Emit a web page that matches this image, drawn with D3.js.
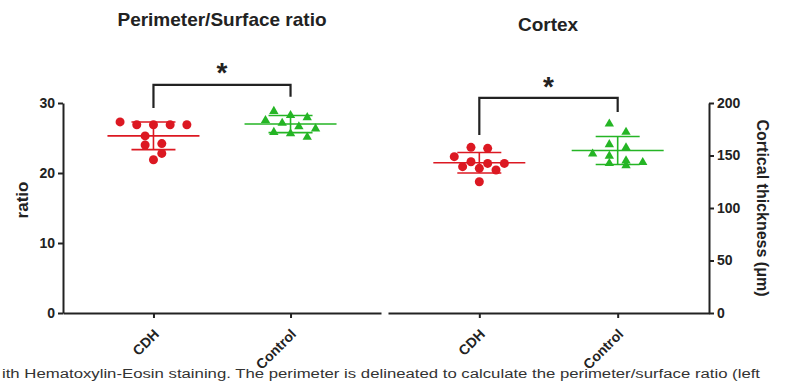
<!DOCTYPE html>
<html lang="en">
<head>
<meta charset="UTF-8">
<title>Perimeter/Surface ratio and Cortex</title>
<style>
body { margin: 0; background: #fff; }
svg { display: block; font-family: "Liberation Sans", Arial, sans-serif; }
.axis path, .axis line { stroke: #222; stroke-width: 2; }
.axis text { font-size: 14px; font-weight: bold; fill: #222; }
</style>
</head>
<body>
<svg id="chart" width="785" height="381"></svg>
<script src="https://cdn.jsdelivr.net/npm/d3@7"></script>
<script>
/* global d3 */

// values
var groups = ["CDH", "Control"];
var ratioCDH = [26.9, 26.9, 26.9, 27.3, 26.9, 25.3, 24.0, 24.2, 22.8, 21.9];
var ratioControl = [28.9, 28.0, 28.3, 27.6, 27.2, 26.7, 26.4, 25.9, 25.7, 25.2];
var cortexCDH = [157.8, 156.8, 148.9, 144.1, 142.5, 142.5, 139.4, 137.8, 136.2, 125.0];
var cortexControl = [180.6, 172.7, 161.0, 158.0, 152.0, 150.0, 145.5, 144.0, 143.0, 141.0];
var ratioTicks = [0, 10, 20, 30];
var cortexTicks = [0, 50, 100, 150, 200];
// significance brackets: [top, left leg end, right leg end, star]
var ratioSig = [32.6, 29.3, 30.9, 35.0];
var cortexSig = [204.8, 169.5, 191.4, 220.0];
var caption = "ith Hematoxylin-Eosin staining. The perimeter is delineated to calculate the perimeter/surface ratio (left";

var red = "#dc1822", green = "#25b525", ink = "#222";
var svg = d3.select("#chart");

var xL = d3.scalePoint().domain(groups).range([63, 381]).padding(0.66);
var xR = d3.scalePoint().domain(groups).range([388, 709]).padding(0.66);
var yL = d3.scaleLinear().domain([0, 30]).range([313, 103]);
var yR = d3.scaleLinear().domain([0, 200]).range([313, 103]);

// GraphPad-like scatter: bin points into rows, center each row
function swarm(values, cx, y, step, gap) {
  var sorted = values.slice().sort(function (a, b) { return b - a; });
  var rows = [], cur = null;
  sorted.forEach(function (v) {
    var py = y(v);
    if (!cur || py - cur.y0 >= gap) { cur = {y0: py, items: []}; rows.push(cur); }
    cur.items.push(v);
  });
  var out = [];
  rows.forEach(function (r) {
    var n = r.items.length;
    r.items.forEach(function (v, k) {
      out.push({v: v, x: cx + (k - (n - 1) / 2) * step, y: y(v)});
    });
  });
  return out;
}

function drawGroup(values, cx, y, color, shape) {
  var g = svg.append("g");
  var pts = swarm(values, cx, y, 16.7, 8.5);
  if (shape === "circle") {
    g.selectAll("circle").data(pts).enter().append("circle")
      .attr("cx", function (d) { return d.x; })
      .attr("cy", function (d) { return d.y; })
      .attr("r", 4.5)
      .attr("fill", color);
  } else {
    g.selectAll("path").data(pts).enter().append("path")
      .attr("d", d3.symbol().type(d3.symbolTriangle).size(38))
      .attr("transform", function (d) { return "translate(" + d.x + "," + (d.y + 0.5) + ")"; })
      .attr("fill", color);
  }
  var m = d3.mean(values), sd = d3.deviation(values);
  var lines = [
    [cx - 46, y(m), cx + 46, y(m)],
    [cx - 22, y(m + sd), cx + 22, y(m + sd)],
    [cx - 22, y(m - sd), cx + 22, y(m - sd)],
    [cx, y(m + sd), cx, y(m - sd)]
  ];
  g.selectAll("line").data(lines).enter().append("line")
    .attr("x1", function (d) { return d[0]; })
    .attr("y1", function (d) { return d[1]; })
    .attr("x2", function (d) { return d[2]; })
    .attr("y2", function (d) { return d[3]; })
    .attr("stroke", color)
    .attr("stroke-width", 1.6);
}

function drawBracket(x, y, sig) {
  var x1 = x("CDH"), x2 = x("Control");
  svg.append("path")
    .attr("d", "M" + x1 + "," + y(sig[1]) + "V" + y(sig[0]) + "H" + x2 + "V" + y(sig[2]))
    .attr("fill", "none").attr("stroke", ink).attr("stroke-width", 2.2);
  svg.append("text")
    .attr("x", (x1 + x2) / 2).attr("y", y(sig[3]) + 14)
    .attr("text-anchor", "middle")
    .attr("font-size", 28).attr("font-weight", "bold").attr("fill", ink)
    .text("*");
}

function xAxis(x) {
  var g = svg.append("g").attr("class", "axis")
    .attr("transform", "translate(0,313)")
    .call(d3.axisBottom(x).tickSize(5).tickSizeOuter(0).tickFormat(""));
  g.selectAll(".tick").append("text")
    .attr("transform", "translate(6,22) rotate(-45)")
    .attr("text-anchor", "end")
    .text(function (d) { return d; });
}

// left panel
xAxis(xL);
svg.append("g").attr("class", "axis")
  .attr("transform", "translate(63,0)")
  .call(d3.axisLeft(yL).tickValues(ratioTicks).tickSize(5).tickSizeOuter(0).tickPadding(3));
drawGroup(ratioCDH, xL("CDH"), yL, red, "circle");
drawGroup(ratioControl, xL("Control"), yL, green, "triangle");
drawBracket(xL, yL, ratioSig);

// right panel
xAxis(xR);
svg.append("g").attr("class", "axis")
  .attr("transform", "translate(709,0)")
  .call(d3.axisRight(yR).tickValues(cortexTicks).tickSize(5).tickSizeOuter(0).tickPadding(3));
drawGroup(cortexCDH, xR("CDH"), yR, red, "circle");
drawGroup(cortexControl, xR("Control"), yR, green, "triangle");
drawBracket(xR, yR, cortexSig);

// titles and axis labels
svg.append("text").attr("x", 222).attr("y", 26).attr("text-anchor", "middle")
  .attr("font-size", 19).attr("font-weight", "bold").attr("fill", ink)
  .text("Perimeter/Surface ratio");
svg.append("text").attr("x", 548).attr("y", 31).attr("text-anchor", "middle")
  .attr("font-size", 19).attr("font-weight", "bold").attr("fill", ink)
  .text("Cortex");
svg.append("text").attr("transform", "translate(28,200) rotate(-90)")
  .attr("text-anchor", "middle").attr("font-size", 17).attr("font-weight", "bold").attr("fill", ink)
  .text("ratio");
svg.append("text").attr("transform", "translate(757,208) rotate(90)")
  .attr("text-anchor", "middle").attr("font-size", 16).attr("font-weight", "bold").attr("fill", ink)
  .text("Cortical thickness (μm)");

// caption line at the bottom edge
svg.append("text").attr("x", 2).attr("y", 377.5)
  .attr("font-size", 12).attr("fill", "#333")
  .attr("textLength", 758).attr("lengthAdjust", "spacingAndGlyphs")
  .text(caption);
</script>
</body>
</html>
